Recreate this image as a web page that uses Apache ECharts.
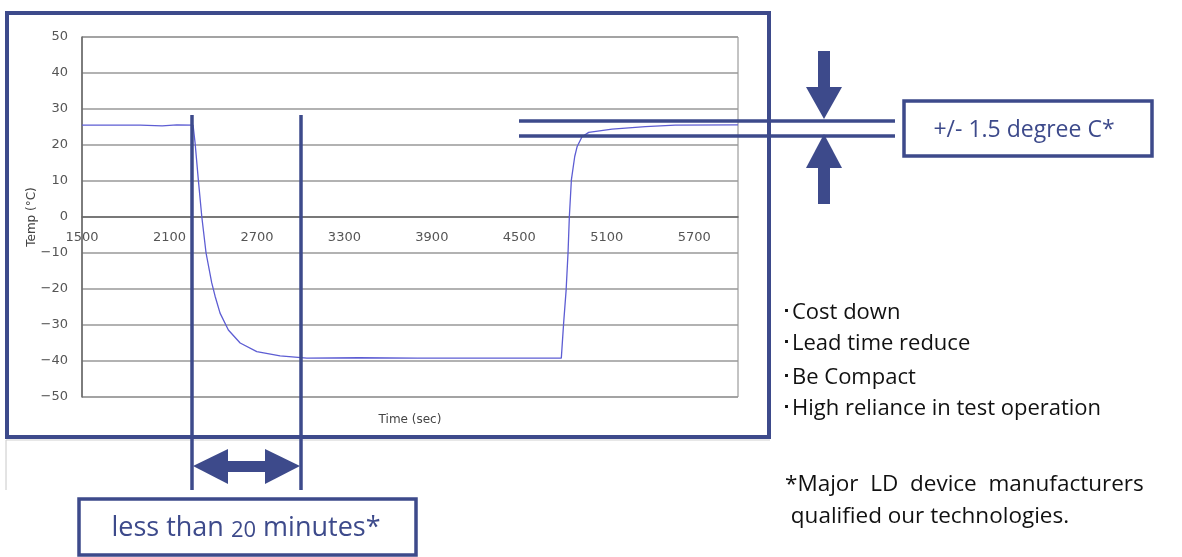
<!DOCTYPE html>
<html>
<head>
<meta charset="utf-8">
<title>Temp vs Time</title>
<script src="https://cdn.jsdelivr.net/npm/echarts@6/dist/echarts.min.js"></script>
<style>
	html, body { margin: 0; padding: 0; background: #fff; }
	#chart { width: 1182px; height: 557px; }
</style>
</head>
<body>
<div id="chart"></div>
<script>
"use strict";

/*-----data-----*/
var times = [1500, 1900, 2050, 2150, 2262, 2276, 2298, 2322, 2351, 2390, 2413, 2447, 2504, 2585, 2699, 2859, 3043,
	3400, 3800, 4200, 4600, 4788, 4804, 4821, 4834, 4843, 4857, 4880, 4896, 4930, 4976, 5136, 5365, 5570, 6000];
var temps = [25.5, 25.5, 25.3, 25.6, 25.5, 20.5, 10.3, 0, -10, -18.3, -22, -26.7, -31.4, -35, -37.4, -38.6, -39.2,
	-39.1, -39.2, -39.2, -39.2, -39.2, -29.4, -20.3, -10, 0, 10.3, 16.8, 19.5, 22.3, 23.5, 24.4, 25.1, 25.5, 25.6];
var xTicks = { min: 1500, max: 6000, step: 600 };
var yTicks = { min: -50, max: 50, step: 10 };
var bullets = ['\uFF65Cost down', '\uFF65Lead time reduce', '\uFF65Be Compact', '\uFF65High reliance in test operation'];
var noteLines = ['*Major  LD  device  manufacturers', ' qualified our technologies.'];
var toleranceText = '+/- 1.5 degree C*';

var points = times.map(function (t, i) { return [t, temps[i]]; });

var navy = '#3d4a8b';
var axisFont = 'DejaVu Sans';
var noteFont = 'Open Sans';

/*-----annotations-----*/
var graphics = [
	// outer frame
	{ type: 'rect', z: 100, shape: { x: 7, y: 13, width: 762, height: 424 },
		style: { fill: 'none', stroke: navy, lineWidth: 4 } },
	{ type: 'line', z: 99, shape: { x1: 6, y1: 440, x2: 6, y2: 490 },
		style: { stroke: '#c8c8c8', lineWidth: 1 } },
	{ type: 'line', z: 99, shape: { x1: 6, y1: 440, x2: 770, y2: 440 },
		style: { stroke: '#d0d0d0', lineWidth: 1 } },
	// x axis title
	{ type: 'text', z: 99, x: 410, y: 420,
		style: { text: 'Time (sec)', fill: '#444', font: '12px ' + axisFont, align: 'center', verticalAlign: 'middle' } },
	// vertical markers
	{ type: 'line', z: 101, shape: { x1: 192, y1: 115, x2: 192, y2: 490 },
		style: { stroke: navy, lineWidth: 3.5 } },
	{ type: 'line', z: 101, shape: { x1: 301, y1: 115, x2: 301, y2: 490 },
		style: { stroke: navy, lineWidth: 3.5 } },
	// horizontal tolerance lines
	{ type: 'line', z: 101, shape: { x1: 519, y1: 121, x2: 895, y2: 121 },
		style: { stroke: navy, lineWidth: 3.5 } },
	{ type: 'line', z: 101, shape: { x1: 519, y1: 136, x2: 895, y2: 136 },
		style: { stroke: navy, lineWidth: 3.5 } },
	// down arrow
	{ type: 'rect', z: 101, shape: { x: 818, y: 51, width: 12, height: 38 }, style: { fill: navy } },
	{ type: 'polygon', z: 101, shape: { points: [[806, 87], [842, 87], [824, 119]] }, style: { fill: navy } },
	// up arrow
	{ type: 'polygon', z: 101, shape: { points: [[824, 134], [806, 168], [842, 168]] }, style: { fill: navy } },
	{ type: 'rect', z: 101, shape: { x: 818, y: 166, width: 12, height: 38 }, style: { fill: navy } },
	// double arrow
	{ type: 'polygon', z: 101, shape: { points: [[193, 466], [228, 449], [228, 484]] }, style: { fill: navy } },
	{ type: 'polygon', z: 101, shape: { points: [[300, 466], [265, 449], [265, 484]] }, style: { fill: navy } },
	{ type: 'rect', z: 101, shape: { x: 226, y: 461, width: 41, height: 11 }, style: { fill: navy } },
	// boxes
	{ type: 'rect', z: 101, shape: { x: 904, y: 101, width: 248, height: 55 },
		style: { fill: '#fff', stroke: navy, lineWidth: 3.5 } },
	{ type: 'text', z: 102, x: 1024, y: 130,
		style: { text: toleranceText, fill: navy, font: '23px ' + noteFont, align: 'center', verticalAlign: 'middle' } },
	{ type: 'rect', z: 101, shape: { x: 79, y: 499, width: 337, height: 56 },
		style: { fill: '#fff', stroke: navy, lineWidth: 3.5 } },
	{ type: 'text', z: 102, x: 246, y: 528,
		style: {
			text: '{a|less than }{b|20}{a| minutes*}',
			align: 'center',
			verticalAlign: 'middle',
			rich: {
				a: { fill: navy, fontFamily: noteFont, fontSize: 27, verticalAlign: 'bottom' },
				b: { fill: navy, fontFamily: noteFont, fontSize: 22, verticalAlign: 'bottom' }
			}
		} }
];

var bulletY = [313, 344, 378, 409];
bullets.forEach(function (b, i) {
	graphics.push({ type: 'text', z: 102, x: 781, y: bulletY[i],
		style: { text: b, fill: '#111', font: '22px ' + noteFont, align: 'left', verticalAlign: 'middle' } });
});
var noteY = [485, 517];
noteLines.forEach(function (n, i) {
	graphics.push({ type: 'text', z: 102, x: 785, y: noteY[i],
		style: { text: n, fill: '#111', font: '22.5px ' + noteFont, align: 'left', verticalAlign: 'middle' } });
});

/*-----chart-----*/
var chart = echarts.init(document.getElementById('chart'));
var option = {
	animation: false,
	backgroundColor: '#fff',
	grid: {
		left: 82,
		top: 37,
		width: 656,
		height: 360,
		containLabel: false,
		outerBoundsMode: 'none',
		show: true,
		backgroundColor: '#fff',
		borderColor: '#888',
		borderWidth: 1
	},
	xAxis: {
		type: 'value',
		min: xTicks.min,
		max: xTicks.max,
		interval: xTicks.step,
		offset: -180,
		axisLine: { onZero: false, lineStyle: { color: '#666', width: 1.5 } },
		axisTick: { show: false },
		axisLabel: {
			showMaxLabel: false,
			margin: 14,
			fontFamily: axisFont,
			fontSize: 13,
			color: '#555',
			formatter: function (v) { return String(v); }
		},
		splitLine: { show: false }
	},
	yAxis: {
		type: 'value',
		min: yTicks.min,
		max: yTicks.max,
		interval: yTicks.step,
		name: 'Temp (°C)',
		nameLocation: 'middle',
		nameGap: 44,
		nameMoveOverlap: false,
		nameTextStyle: { fontFamily: axisFont, fontSize: 12, color: '#444' },
		axisLine: { show: true, lineStyle: { color: '#666', width: 1.5 } },
		axisTick: { show: false },
		axisLabel: {
			margin: 14,
			fontFamily: axisFont,
			fontSize: 13,
			color: '#555',
			formatter: function (v) { return v < 0 ? '\u2212' + Math.abs(v) : String(v); }
		},
		splitLine: { show: true, lineStyle: { color: '#999', width: 1.5 } }
	},
	series: [{
		type: 'line',
		data: points,
		showSymbol: false,
		lineStyle: { color: '#5d5dd3', width: 1.3 },
		z: 3
	}],
	graphic: graphics
};
chart.setOption(option);
</script>
</body>
</html>
